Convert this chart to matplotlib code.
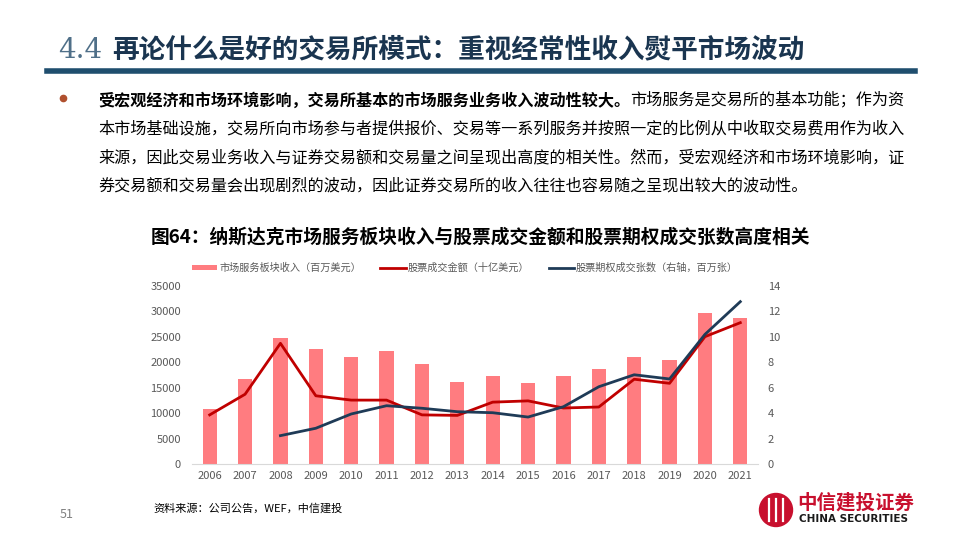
import matplotlib
matplotlib.use("Agg")
import matplotlib.pyplot as plt
from matplotlib.patches import Ellipse

plt.rcParams['font.family'] = ['Noto Sans CJK SC', 'DejaVu Sans']

years = ['2006', '2007', '2008', '2009', '2010', '2011', '2012', '2013',
         '2014', '2015', '2016', '2017', '2018', '2019', '2020', '2021']
revenue = [10900, 16700, 24800, 22600, 21000, 22300, 19750, 16150,
           17350, 16050, 17400, 18750, 21100, 20400, 29650, 28800]
trade_value = [9700, 13750, 23750, 13450, 12600, 12600, 9700, 9600,
               12200, 12450, 11050, 11250, 16700, 15900, 25050, 27800]
opt_years = years[2:]
opt_contracts = [2.25, 2.83, 3.95, 4.6, 4.4, 4.13, 4.05, 3.71,
                 4.52, 6.09, 7.03, 6.7, 10.2, 12.77]

title_num = '4.4'
title_txt = '再论什么是好的交易所模式：重视经常性收入熨平市场波动'
para_bold = '受宏观经济和市场环境影响，交易所基本的市场服务业务收入波动性较大。'
para_lines = ['市场服务是交易所的基本功能；作为资',
              '本市场基础设施，交易所向市场参与者提供报价、交易等一系列服务并按照一定的比例从中收取交易费用作为收入',
              '来源，因此交易业务收入与证券交易额和交易量之间呈现出高度的相关性。然而，受宏观经济和市场环境影响，证',
              '券交易额和交易量会出现剧烈的波动，因此证券交易所的收入往往也容易随之呈现出较大的波动性。']
chart_title = '图64：纳斯达克市场服务板块收入与股票成交金额和股票期权成交张数高度相关'
labels = ['市场服务板块收入（百万美元）', '股票成交金额（十亿美元）', '股票期权成交张数（右轴，百万张）']

W, H = 960, 540
fig = plt.figure(figsize=(9.6, 5.4), dpi=100)

def fx(x):
    return x / W

def fy(y):
    return 1 - y / H

# header
fig.text(fx(58), fy(50), title_num, fontsize=20, color='#4f6f88',
         family='DejaVu Serif', fontweight='light', va='center')
fig.text(fx(112), fy(50), title_txt, fontsize=19.2, color='#1a3550',
         fontweight='bold', va='center')
fig.add_artist(plt.Line2D([fx(47), fx(915)], [fy(71), fy(71)], color='#1f4e6e', lw=4))

# paragraph
fig.add_artist(plt.Line2D([fx(63)], [fy(98)], marker='o', ms=4.5, color='#b0502e', lw=0))
t = fig.text(fx(98), fy(100), para_bold, fontsize=11.6, fontweight='bold',
             color='black', va='center')
fig.canvas.draw()
bb = t.get_window_extent(renderer=fig.canvas.get_renderer())
fig.text(bb.x1 / W, fy(100), para_lines[0], fontsize=11.6, color='black', va='center')
for i, line in enumerate(para_lines[1:]):
    fig.text(fx(98), fy(129 + 28.7 * i), line, fontsize=11.6, color='black', va='center')

fig.text(fx(480), fy(237), chart_title, fontsize=13.5, fontweight='bold',
         color='black', ha='center', va='center')

# chart
ax = fig.add_axes([fx(192), fy(464.3), fx(566), 178.3 / H])
ax2 = ax.twinx()
x = list(range(len(years)))
bars = ax.bar(x, revenue, width=0.4, color='#ff7c80', label=labels[0])
l1, = ax.plot(x, trade_value, color='#c00000', lw=2, label=labels[1])
xo = [years.index(y) for y in opt_years]
l2, = ax2.plot(xo, opt_contracts, color='#1f3b57', lw=2, label=labels[2])

ax.set_xlim(-0.5, len(years) - 0.5)
ax.set_ylim(0, 35000)
ax.set_yticks(range(0, 35001, 5000))
ax2.set_ylim(0, 14)
ax2.set_yticks(range(0, 15, 2))
ax.set_xticks(x)
ax.set_xticklabels(years)
for a in (ax, ax2):
    for s in a.spines.values():
        s.set_visible(False)
    a.tick_params(length=0, labelsize=8, labelcolor='#595959')
ax.spines['bottom'].set_visible(True)
ax.spines['bottom'].set_color('#d9d9d9')
ax.tick_params(axis='y', pad=8)
ax2.tick_params(axis='y', pad=7)
ax.tick_params(axis='x', pad=5)

fig.legend([bars, l1, l2], labels, loc='center', bbox_to_anchor=(fx(465), fy(268)),
           ncol=3, frameon=False, fontsize=7.3, handlelength=2.5, handleheight=0.5,
           columnspacing=1.9, handletextpad=0.2, labelcolor='#595959')

# footer
fig.text(fx(60), fy(515), '51', fontsize=9, color='#808080', va='center')
fig.text(fx(153), fy(508), '资料来源：公司公告，WEF，中信建投', fontsize=8, color='black',
         style='italic', va='center')
fig.add_artist(Ellipse((fx(776), fy(510)), 33 / W, 33 / H, transform=fig.transFigure,
                       color='#c8102e'))
for dx in (-7, 0, 7):
    fig.add_artist(plt.Line2D([fx(776 + dx), fx(776 + dx)], [fy(499), fy(521)],
                              color='white', lw=1.6))
fig.text(fx(797), fy(503), '中信建投证券', fontsize=14, fontweight='bold',
         color='#c8102e', va='center')
fig.text(fx(799), fy(519), 'CHINA SECURITIES', fontsize=7.5, fontweight='bold',
         color='#1a1a1a', va='center', family='DejaVu Sans')

fig.savefig('out.png', dpi=100)
